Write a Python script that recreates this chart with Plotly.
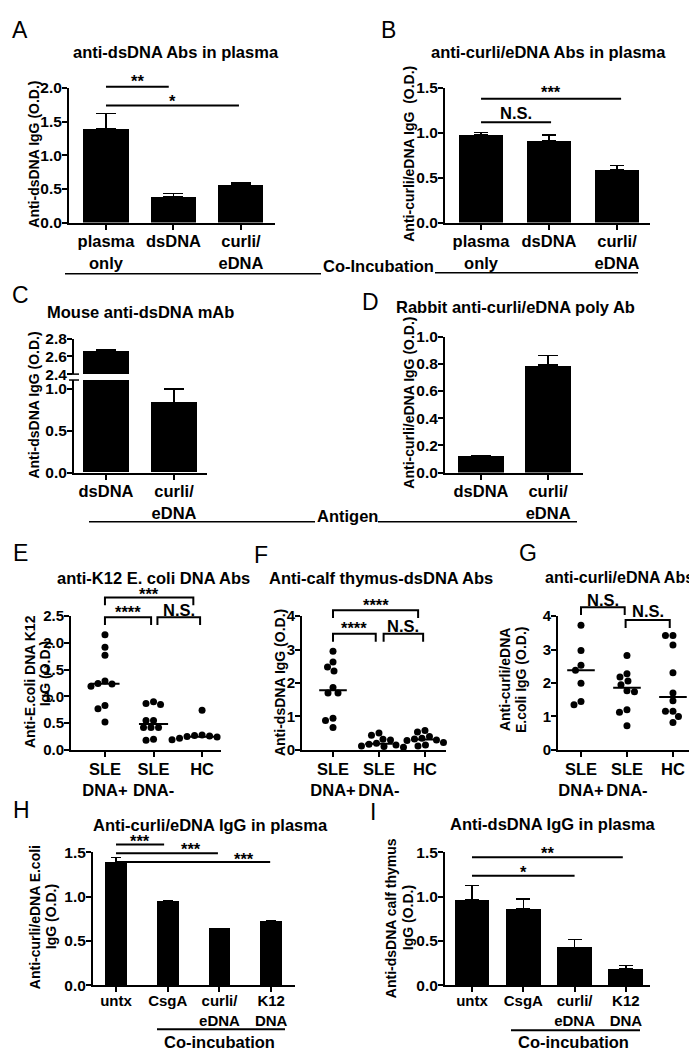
import numpy as np
import plotly.graph_objects as go

W, H = 697, 1050
FONT = "Liberation Sans, Arial, Helvetica, sans-serif"

# ---------------- data ----------------
A_cats = ["plasma<br>only", "dsDNA", "curli/<br>eDNA"]
A_mean = [1.39, 0.39, 0.56]
A_sem = [0.23, 0.04, 0.03]

B_cats = ["plasma<br>only", "dsDNA", "curli/<br>eDNA"]
B_mean = [0.98, 0.91, 0.59]
B_sem = [0.025, 0.065, 0.045]

C_cats = ["dsDNA", "curli/<br>eDNA"]
C_mean = [2.67, 0.84]
C_sem = [0.0, 0.16]

D_cats = ["dsDNA", "curli/<br>eDNA"]
D_mean = [0.12, 0.79]
D_sem = [0.0, 0.07]

group_cats = ["SLE<br>DNA+", "SLE<br>DNA-", "HC"]

E_dna_pos = [2.15, 1.92, 1.77, 1.29, 1.24, 1.23, 1.19, 0.83, 0.77, 0.52]
E_dna_neg = [0.90, 0.87, 0.85, 0.55, 0.55, 0.42, 0.42, 0.42, 0.20, 0.18]
E_hc = [0.74, 0.28, 0.27, 0.26, 0.25, 0.24, 0.22, 0.20, 0.19, 0.17]

F_dna_pos = [2.95, 2.63, 2.48, 2.36, 1.87, 1.70, 1.70, 0.95, 0.88, 0.67]
F_dna_neg = [0.51, 0.44, 0.32, 0.30, 0.20, 0.17, 0.15, 0.12, 0.10, 0.08]
F_hc = [0.58, 0.54, 0.40, 0.35, 0.33, 0.30, 0.28, 0.22, 0.15, 0.12]

G_dna_pos = [3.73, 2.97, 2.53, 2.38, 1.99, 1.45, 1.35]
G_dna_neg = [2.82, 2.28, 2.18, 2.06, 1.95, 1.77, 1.74, 1.20, 1.13, 0.72]
G_hc = [3.42, 3.42, 3.14, 2.31, 1.70, 1.47, 1.16, 1.16, 1.00, 0.82]

HI_cats = ["untx", "CsgA", "curli/<br>eDNA", "K12<br>DNA"]
H_mean = [1.385, 0.952, 0.637, 0.72]
H_sem = [0.055, 0.005, 0.003, 0.005]
I_mean = [0.96, 0.86, 0.425, 0.18]
I_sem = [0.165, 0.11, 0.09, 0.04]

# ---------------- layout helpers ----------------
fig = go.Figure()
shapes, annos = [], []
AX = {}


def names(n):
    s = "" if n == 1 else str(n)
    return "x" + s, "y" + s, "xaxis" + s, "yaxis" + s


def set_axes(n, x0, x1, ytop, ybot, xr, yr, xticktext, ytickvals, yfmt,
             show_x=True, xfs=16.5, yfs=15.5, xstand=-2):
    xn, yn, xk, yk = names(n)
    AX[n] = (x0, x1, xr)
    common = dict(showline=True, linewidth=2, linecolor="black", ticks="outside",
                  ticklen=5, tickwidth=1.5, tickcolor="black", showgrid=False,
                  zeroline=False, fixedrange=True)
    xa = dict(common, domain=[x0 / W, x1 / W], range=xr, anchor=yn,
              tickmode="array", tickvals=list(range(len(xticktext))),
              ticktext=xticktext, ticklabelstandoff=xstand,
              tickfont=dict(family=FONT, size=xfs, color="black", weight="bold"))
    if not show_x:
        xa["visible"] = False
    ya = dict(common, domain=[1 - ybot / H, 1 - ytop / H], range=yr, anchor=xn,
              tickmode="array", tickvals=ytickvals, ticklabelstandoff=-3,
              ticktext=[format(v, yfmt) for v in ytickvals],
              tickfont=dict(family=FONT, size=yfs, color="black", weight="bold"))
    fig.update_layout({xk: xa, yk: ya})


def dx(n, v):
    """category-axis value -> pixel x (for annotation decorations)"""
    x0, x1, xr = AX[n]
    return x0 + (v - xr[0]) / (xr[1] - xr[0]) * (x1 - x0)


def add_bars(n, means, sems, width, capw):
    xn, yn, _, _ = names(n)
    fig.add_trace(go.Bar(
        x=list(range(len(means))), y=means, width=width,
        marker=dict(color="black", line=dict(width=0)),
        error_y=dict(type="data", symmetric=False, array=sems,
                     arrayminus=[0] * len(sems), color="black",
                     thickness=1.5, width=capw),
        xaxis=xn, yaxis=yn, showlegend=False, hoverinfo="skip"))


def swarm(vals, ppu_y, d):
    vals = np.asarray(vals, float)
    order = np.argsort(-vals, kind="stable")
    cands = sorted(np.arange(-40, 40.01, 0.5), key=lambda c: (abs(c), c))
    placed, offs = [], np.zeros(len(vals))
    for i in order:
        yy = vals[i] * ppu_y
        for c in cands:
            if all((c - a) ** 2 + (yy - b) ** 2 >= d * d for a, b in placed):
                offs[i] = c
                placed.append((c, yy))
                break
    return offs


def add_dots(n, groups, ppu_x, ppu_y, d=7.5, hw=0.3):
    xn, yn, _, _ = names(n)
    for gi, vals in enumerate(groups):
        xs = gi + swarm(vals, ppu_y, d) / ppu_x
        fig.add_trace(go.Scatter(x=xs, y=vals, mode="markers", cliponaxis=False,
                                 marker=dict(color="black", size=7),
                                 xaxis=xn, yaxis=yn, showlegend=False,
                                 hoverinfo="skip"))
        med = float(np.median(vals))
        fig.add_trace(go.Scatter(x=[gi - hw, gi + hw], y=[med, med], mode="lines",
                                 line=dict(color="black", width=2),
                                 xaxis=xn, yaxis=yn, showlegend=False,
                                 hoverinfo="skip"))


def pline(x0, x1, y, w=2):
    shapes.append(dict(type="line", xref="paper", yref="paper", x0=x0 / W, x1=x1 / W,
                       y0=1 - y / H, y1=1 - y / H, line=dict(color="black", width=w)))


def txt(x, y, s, size=16.5, weight="bold", xanchor="center", angle=0):
    annos.append(dict(x=x / W, y=1 - y / H, xref="paper", yref="paper", text=s,
                      showarrow=False, textangle=angle, xanchor=xanchor,
                      yanchor="middle", borderpad=0,
                      font=dict(family=FONT, size=size, color="black", weight=weight)))


def ytitle(x, y, s):
    txt(x, y, s, size=14, angle=-90)


def sigline(n, a, b, y, label, ty):
    pline(dx(n, a), dx(n, b), y)
    txt((dx(n, a) + dx(n, b)) / 2, ty, label)


def bracket(n, a, b, ytop, label, ty, leg=8):
    x0, x1 = dx(n, a), dx(n, b)
    p = "M {:.4f},{:.4f} L {:.4f},{:.4f} L {:.4f},{:.4f} L {:.4f},{:.4f}".format(
        x0 / W, 1 - (ytop + leg) / H, x0 / W, 1 - ytop / H,
        x1 / W, 1 - ytop / H, x1 / W, 1 - (ytop + leg) / H)
    shapes.append(dict(type="path", xref="paper", yref="paper", path=p,
                       line=dict(color="black", width=2)))
    txt((x0 + x1) / 2, ty, label)


# ---------------- A ----------------
set_axes(1, 61, 267, 72, 209, [-0.548, 2.504], [0, 2.0], A_cats,
         [0, 0.5, 1.0, 1.5, 2.0], ".1f")
add_bars(1, A_mean, A_sem, 0.667, 10)
sigline(1, 0, 0.93, 71, "**", 65)
sigline(1, 0, 1.97, 90, "*", 85)
txt(168, 36, "anti-dsDNA Abs in plasma")
ytitle(26, 140, "Anti-dsDNA IgG (O.D.)")
txt(12, 13, "A", size=23, weight="normal")

# ---------------- B ----------------
set_axes(2, 437, 642, 72, 209, [-0.53, 2.485], [0, 1.5], B_cats,
         [0, 0.5, 1.0, 1.5], ".1f")
add_bars(2, B_mean, B_sem, 0.66, 7)
sigline(2, 0, 2.06, 83, "***", 76)
sigline(2, 0, 1.03, 107, "N.S.", 98)
txt(540, 36, "anti-curli/eDNA Abs in plasma")
ytitle(401, 139, "Anti-curli/eDNA IgG  (O.D.)")
txt(380, 13, "B", size=23, weight="normal")

# Co-Incubation (A/B)
pline(57, 313, 261, 1.5)
txt(314, 253, "Co-Incubation", xanchor="left")
pline(427, 630, 260, 1.5)

# ---------------- C (broken axis) ----------------
set_axes(3, 66, 199, 369, 463, [-0.47, 1.485], [0, 1.106], C_cats,
         [0, 0.5, 1.0], ".1f")
add_bars(3, C_mean, C_sem, 0.69, 10)
set_axes(4, 66, 199, 327, 363, [-0.47, 1.485], [2.4, 2.8], C_cats,
         [2.4, 2.6, 2.8], ".1f", show_x=False)
add_bars(4, C_mean, C_sem, 0.69, 10)
pline(61, 71, 363, 1.5)
pline(61, 71, 369, 1.5)
txt(38, 300, "Mouse anti-dsDNA mAb", xanchor="left")
ytitle(26, 395, "Anti-dsDNA IgG (O.D.)")
txt(12, 283, "C", size=23, weight="normal")

# ---------------- D ----------------
set_axes(5, 437, 575, 325, 463, [-0.537, 1.52], [0, 1.0], D_cats,
         [0, 0.2, 0.4, 0.6, 0.8, 1.0], ".1f")
add_bars(5, D_mean, D_sem, 0.69, 10)
txt(387, 295, "Rabbit anti-curli/eDNA poly Ab", xanchor="left")
ytitle(401, 392, "Anti-curli/eDNA IgG (O.D.)")
txt(362, 290, "D", size=23, weight="normal")

# Antigen (C/D)
pline(81, 307, 513, 1.5)
txt(308, 507, "Antigen", xanchor="left")
pline(370, 569, 513, 1.5)

# ---------------- E ----------------
set_axes(6, 63, 213, 609, 745, [-0.70, 2.39], [0, 2.5], group_cats,
         [0, 0.5, 1.0, 1.5, 2.0, 2.5], ".1f", yfs=15)
add_dots(6, [E_dna_pos, E_dna_neg, E_hc], 48.5, 54.4)
bracket(6, 0, 1.82, 590, "***", 586)
bracket(6, 0, 0.95, 610, "****", 605)
bracket(6, 1.08, 1.96, 610, "N.S.", 603)
txt(48, 570, "anti-K12 E. coli DNA Abs", xanchor="left")
ytitle(22, 676, "Anti-E.coli DNA K12")
ytitle(37, 668, "IgG (O.D.)")
txt(12, 545, "E", size=23, weight="normal")

# ---------------- F ----------------
set_axes(7, 294, 438, 609, 745, [-0.674, 2.457], [0, 4], group_cats,
         [0, 1, 2, 3, 4], "d", yfs=15)
add_dots(7, [F_dna_pos, F_dna_neg, F_hc], 46, 34)
bracket(7, 0, 1.85, 603, "****", 598)
bracket(7, 0, 0.93, 627, "****", 621)
bracket(7, 1.1, 1.96, 627, "N.S.", 619)
txt(260, 570, "Anti-calf thymus-dsDNA Abs", xanchor="left")
ytitle(272, 677, "Anti-dsDNA IgG (O.D.)")
txt(253, 547, "F", size=23, weight="normal")

# ---------------- G ----------------
set_axes(8, 550, 693, 609, 745, [-0.5, 2.61], [0, 4], group_cats,
         [0, 1, 2, 3, 4], "d", yfs=15)
add_dots(8, [G_dna_pos, G_dna_neg, G_hc], 46, 34)
bracket(8, 0, 0.95, 600, "N.S.", 593)
bracket(8, 0.97, 1.93, 613, "N.S.", 604)
txt(536, 570, "anti-curli/eDNA Abs", size=16, xanchor="left")
ytitle(497, 674, "Anti-curli/eDNA")
ytitle(513, 674, "E.coli IgG (O.D.)")
txt(520, 545, "G", size=23, weight="normal")

# ---------------- H ----------------
set_axes(9, 85, 287, 849, 984, [-0.445, 3.46], [0, 1.5], HI_cats,
         [0, 0.5, 1.0, 1.5], ".1f", xfs=15, xstand=-4)
add_bars(9, H_mean, H_sem, 0.42, 5)
pline(dx(9, 0), dx(9, 0.93), 841)
pline(dx(9, 0), dx(9, 1.97), 850)
pline(dx(9, 0), dx(9, 2.98), 859)
txt((dx(9, 0) + dx(9, 0.93)) / 2, 838, "***")
txt((dx(9, 0.93) + dx(9, 1.97)) / 2, 846, "***")
txt((dx(9, 1.97) + dx(9, 2.98)) / 2, 856, "***")
txt(202, 821, "Anti-curli/eDNA IgG in plasma")
ytitle(27, 915, "Anti-curli/eDNA E.coli")
ytitle(43, 915, "IgG (O.D.)")
txt(13, 806, "H", size=23, weight="normal")
pline(149, 277, 1029)
txt(212, 1042, "Co-incubation")

# ---------------- I ----------------
set_axes(10, 437, 642, 849, 984, [-0.526, 3.47], [0, 1.5], HI_cats,
         [0, 0.5, 1.0, 1.5], ".1f", xfs=15, xstand=-4)
add_bars(10, I_mean, I_sem, 0.68, 7)
sigline(10, 0, 2.94, 854, "**", 850)
sigline(10, 0, 2.0, 873, "*", 869)
txt(545, 820, "Anti-dsDNA IgG in plasma")
ytitle(383, 916, "Anti-dsDNA calf thymus")
ytitle(400, 916, "IgG (O.D.)")
txt(365, 808, "I", size=23, weight="normal")
pline(503, 632, 1030)
txt(565, 1042, "Co-incubation")

fig.update_layout(
    width=W, height=H, margin=dict(l=0, r=0, t=0, b=0),
    paper_bgcolor="white", plot_bgcolor="white", showlegend=False,
    font=dict(family=FONT, size=16, color="black", weight="bold"),
    shapes=shapes, annotations=annos, bargap=0,
)
fig.write_html("out.html")
